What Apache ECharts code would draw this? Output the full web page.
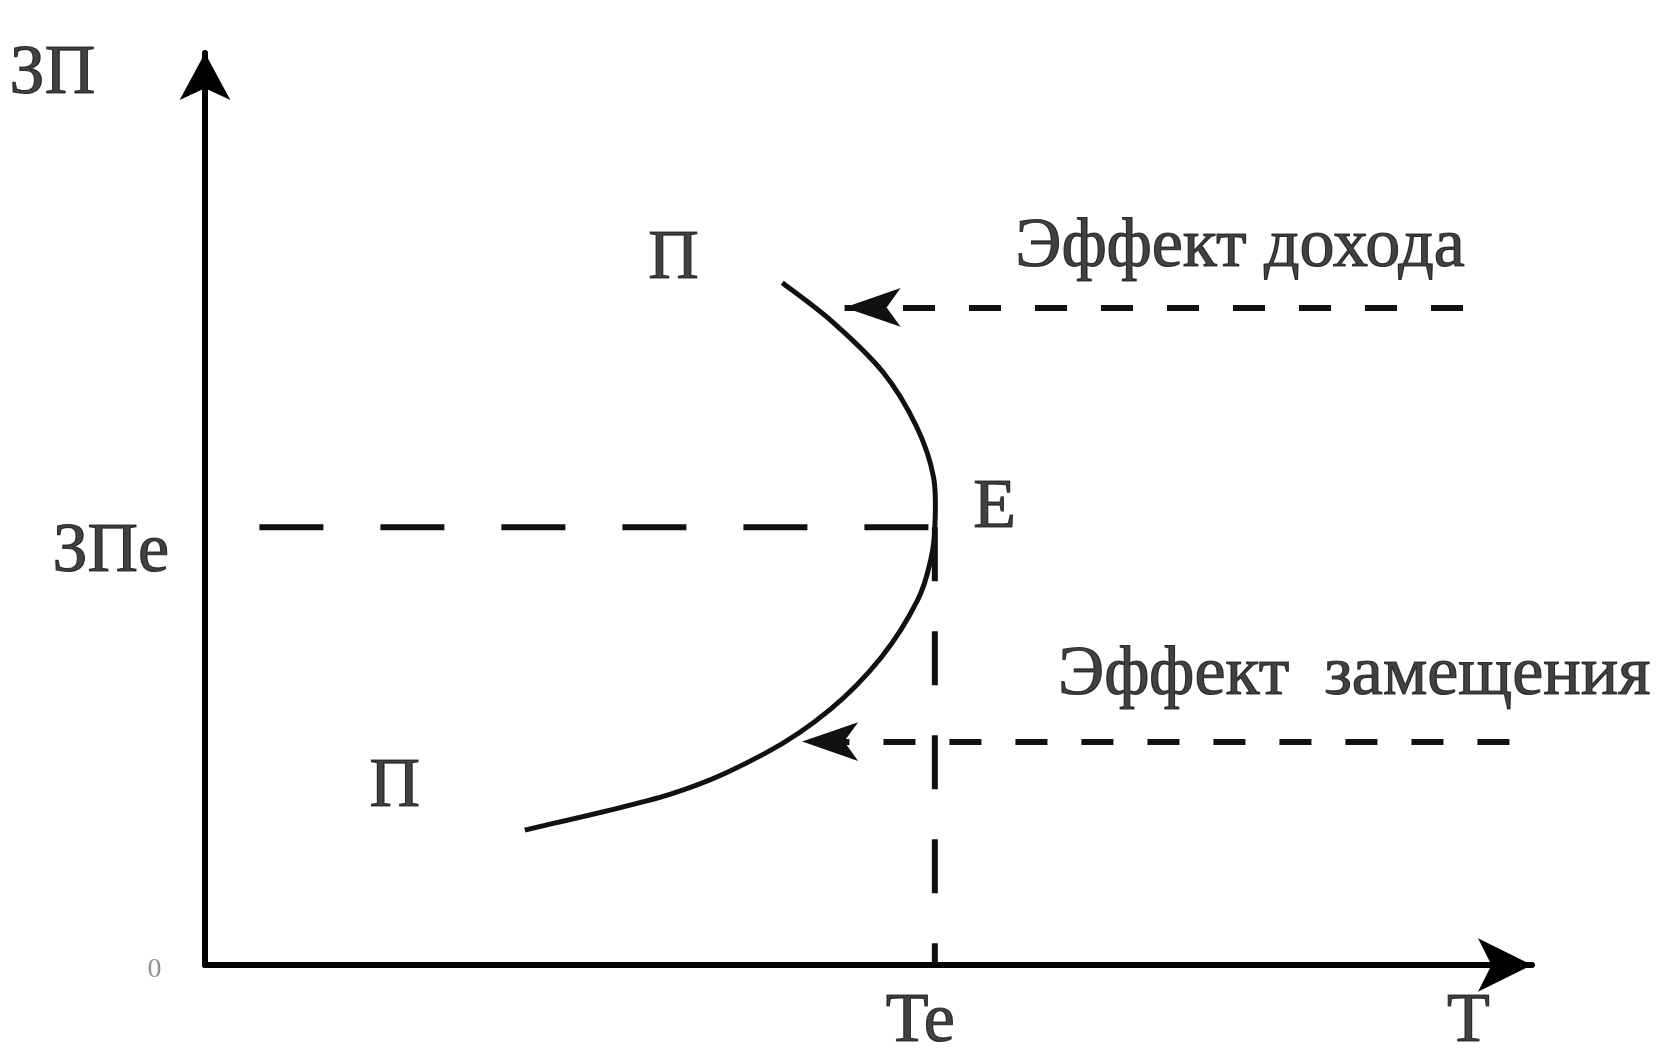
<!DOCTYPE html>
<html>
<head>
<meta charset="utf-8">
<style>
  html, body { margin: 0; padding: 0; background: #fff; }
  #chart { width: 1662px; height: 1048px; }
</style>
<script src="https://cdn.jsdelivr.net/npm/echarts@6/dist/echarts.min.js"></script>
</head>
<body>
<div id="chart"></div>
<script>
// кривая предложения труда П (T - время труда, ЗП - зарплата)
var curveT  = [24.1, 35.2, 42.2, 47.1, 51.0, 53.7, 54.7, 55.0, 54.9, 53.6, 51.1, 47.3, 43.5];
var curveZP = [14.8, 18.8, 23.2, 28.0, 33.8, 40.0, 44.5, 48.0, 53.5, 59.1, 65.0, 70.5, 74.8];

// точка равновесия E
var eqT = 55.0;
var eqZP = 48;
var guideStartT = 4.1;

// стрелки эффектов (от правого края к кривой)
var arrowFromT = [94.8, 98.3];
var arrowToT = [48.2, 45.0];
var arrowZP = [72.1, 24.5];

// подписи
var labelText = ['ЗП', 'ЗПе', '0', 'Te', 'T', 'П', 'П', 'E', 'Эффект дохода', 'Эффект  замещения'];
var labelT  = [-11.5, -7.1, -3.8, 53.9, 95.2, 35.3, 14.3, 59.5, 78.0, 86.6];
var labelZP = [97.6, 45.2, -0.5, -6.3, -6.3, 77.3, 19.5, 50.0, 78.7, 31.7];

var chart = echarts.init(document.getElementById('chart'));

var curveData = curveT.map(function (t, i) { return [t, curveZP[i]]; });
var labelData = labelText.map(function (s, i) {
  var item = { value: [labelT[i], labelZP[i]], name: s };
  if (s === '0') item.label = { fontSize: 28, color: '#777', textBorderWidth: 0 };
  return item;
});
var arrowLines = arrowFromT.map(function (t, i) {
  return [{ coord: [t, arrowZP[i]] }, { coord: [arrowToT[i], arrowZP[i]] }];
});

// сплайн Катмулла-Рома через точки (уже в пикселях) -> path
function splinePath(pts) {
  var d = 'M' + pts[0][0] + ',' + pts[0][1];
  for (var i = 0; i < pts.length - 1; i++) {
    var p0 = pts[i - 1] || pts[i], p1 = pts[i], p2 = pts[i + 1], p3 = pts[i + 2] || p2;
    var c1x = p1[0] + (p2[0] - p0[0]) / 6, c1y = p1[1] + (p2[1] - p0[1]) / 6;
    var c2x = p2[0] - (p3[0] - p1[0]) / 6, c2y = p2[1] - (p3[1] - p1[1]) / 6;
    d += 'C' + c1x + ',' + c1y + ',' + c2x + ',' + c2y + ',' + p2[0] + ',' + p2[1];
  }
  return d;
}

var axisCommon = {
  type: 'value',
  min: 0,
  max: 100,
  axisLine: {
    show: true,
    onZero: false,
    symbol: ['none', 'arrow'],
    lineStyle: { color: '#000', width: 6 }
  },
  axisTick: { show: false },
  axisLabel: { show: false },
  splitLine: { show: false }
};

var option = {
  backgroundColor: '#fff',
  animation: false,
  grid: { left: 205, right: 130, top: 53, bottom: 83, outerBoundsMode: 'none' },
  xAxis: echarts.util.merge({ axisLine: { symbolSize: [40, 54] } }, axisCommon),
  yAxis: echarts.util.merge({ axisLine: { symbolSize: [38, 47] } }, axisCommon),
  series: [
    {
      name: 'П',
      type: 'custom',
      data: curveData,
      encode: { x: 0, y: 1 },
      renderItem: function (params, api) {
        if (params.dataIndex !== 0) return null;
        var pts = curveData.map(function (p) { return api.coord(p); });
        return {
          type: 'path',
          shape: { pathData: splinePath(pts) },
          style: { stroke: '#111', lineWidth: 5, fill: null }
        };
      }
    },
    {
      type: 'line',
      data: [[guideStartT, eqZP], [eqT, eqZP]],
      showSymbol: false,
      lineStyle: { color: '#111', width: 6, type: [64, 57] }
    },
    {
      type: 'line',
      data: [[eqT, eqZP], [eqT, 0]],
      showSymbol: false,
      lineStyle: { color: '#111', width: 6, type: [54, 50] }
    },
    {
      type: 'line',
      data: [],
      clip: false,
      markLine: {
        silent: true,
        symbol: ['none', 'arrow'],
        symbolSize: [29, 56],
        label: { show: false },
        lineStyle: { color: '#111', width: 6, type: [32, 34] },
        data: arrowLines
      }
    },
    {
      type: 'scatter',
      data: labelData,
      symbolSize: 0,
      clip: false,
      label: {
        show: true,
        position: 'inside',
        formatter: '{b}',
        fontFamily: 'Liberation Serif',
        fontSize: 70,
        color: '#111',
        textBorderColor: '#111',
        textBorderWidth: 1.2
      }
    }
  ]
};

chart.setOption(option);
</script>
</body>
</html>
